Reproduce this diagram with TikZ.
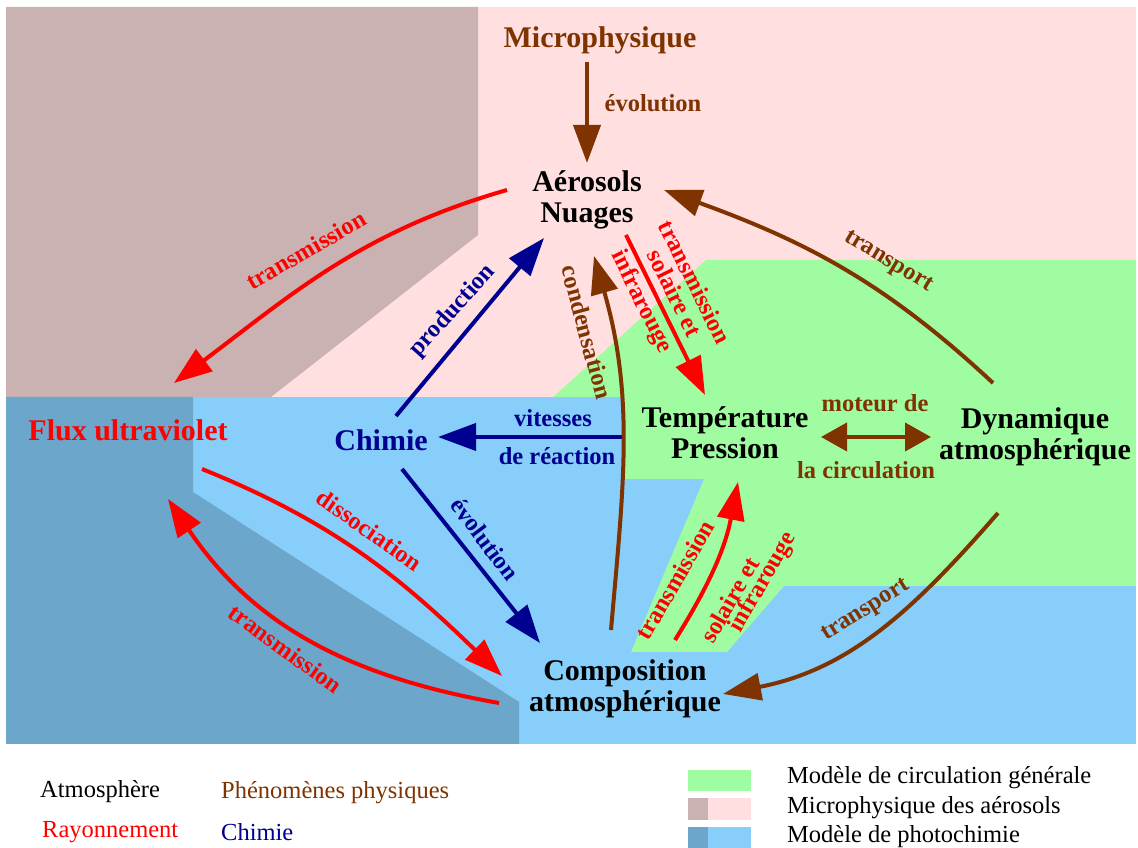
\documentclass[tikz,border=0pt]{standalone}
\usepackage{fontspec}
\setmainfont{Liberation Serif}
\usepackage{tikz}
\usetikzlibrary{arrows.meta}

\definecolor{Brun}{RGB}{127,51,0}
\definecolor{Marine}{RGB}{0,0,144}
\definecolor{Rose}{RGB}{255,223,223}
\definecolor{RoseFonce}{RGB}{201,178,177}
\definecolor{Vert}{RGB}{160,252,160}
\definecolor{Ciel}{RGB}{135,206,250}
\definecolor{CielFonce}{RGB}{108,166,202}

\begin{document}
\begin{tikzpicture}[x=1pt,y=1pt,
  gros/.style={font=\fontsize{30}{31}\selectfont\bfseries,inner sep=0pt,align=center},
  etiq/.style={font=\fontsize{24.5}{25}\selectfont\bfseries,inner sep=0pt},
  leg/.style={font=\fontsize{24.5}{25}\selectfont,inner sep=0pt,anchor=west},
  fl/.style={-{Triangle[length=38pt,width=27pt]},line width=4pt}]

\useasboundingbox (0,0) rectangle (1138,848);

% fonds des trois modeles
\fill[Rose] (6,451) rectangle (1136,841);
\fill[Ciel] (6,104) rectangle (1136,451);
\fill[Vert] (706,588) -- (1136,588) -- (1136,262) -- (784,262) -- (727,196) -- (631,196)
  -- (704,369) -- (622,369) -- (622,451) -- (553,451) -- cycle;
\fill[RoseFonce] (6,841) -- (478,841) -- (478,613) -- (271,451) -- (6,451) -- cycle;
\fill[CielFonce] (6,451) -- (193,451) -- (193,356) -- (519,146) -- (519,104) -- (6,104) -- cycle;

\node[gros,Brun,anchor=base] (micro) at (600,800) {Microphysique};
\node[gros] (aer) at (587,648) {Aérosols\\Nuages};
\node[gros] (temp) at (725,415) {Température\\Pression};
\node[gros] (dyn) at (1035,411) {Dynamique\\atmosphérique};
\node[gros] (comp) at (625,159) {Composition\\atmosphérique};
\node[gros,Marine,anchor=base] (chim) at (381,397) {Chimie};
\node[gros,red,anchor=base] (flux) at (128,407) {Flux ultraviolet};

\draw[fl,Brun] ([shift={(-13,-14)}]micro.base) -- ([shift={(0,37)}]aer.center);
\draw[fl,Brun] ([shift={(-42,54)}]dyn.center) to[out=137,in=-20] ([shift={(77,10)}]aer.center);
\draw[fl,red] ([shift={(-80,10)}]aer.center) to[out=196,in=37] ([shift={(46,58)}]flux.base);
\draw[fl,Marine] ([shift={(15,35)}]chim.base) -- ([shift={(-43,-38)}]aer.center);
\draw[fl,Marine] ([shift={(-103,-4)}]temp.center) -- ([shift={(57,14)}]chim.base);
\draw[fl,Marine] ([shift={(21,-18)}]chim.base) -- ([shift={(-85,46)}]comp.center);
\draw[fl,Brun] ([shift={(-14,59)}]comp.center) to[out=85,in=-74] ([shift={(7,-56)}]aer.center);
\draw[fl,red] ([shift={(39,-35)}]aer.center) -- ([shift={(-20,38)}]temp.center);
\draw[{Triangle[length=26pt,width=28pt]}-{Triangle[length=26pt,width=28pt]},line width=4pt,Brun]
  ([shift={(96,-4)}]temp.center) -- ([shift={(-104,0)}]dyn.center);
\draw[fl,Brun] ([shift={(-37,-76)}]dyn.center) to[out=229,in=11] ([shift={(98,-5)}]comp.center);
\draw[fl,red] ([shift={(-126,-14)}]comp.center) to[out=170,in=-56] ([shift={(40,-58)}]flux.base);
\draw[fl,red] ([shift={(74,-28)}]flux.base) to[out=-22,in=136] ([shift={(-123,13)}]comp.center);
\draw[fl,red] ([shift={(50,49)}]comp.center) to[out=58,in=-101] ([shift={(13,-49)}]temp.center);

\node[etiq,Brun] (l-evol) at (653,745) {évolution};
\node[etiq,red,rotate=30] (l-trans1) at (306,598) {transmission};
\node[etiq,Marine,rotate=48] (l-prod) at (453,537) {production};
\node[etiq,Brun,rotate=-31] (l-transp1) at (888,586) {transport};
\node[etiq,Brun,rotate=-75] (l-cond) at (587,516) {condensation};
\node[etiq,Marine] (l-vit) at (553,430) {vitesses};
\node[etiq,Marine] (l-reac) at (557,392) {de réaction};
\node[etiq,Marine,rotate=-53] (l-evol2) at (485,309) {évolution};
\node[etiq,red,rotate=-63.7] (l-ts1) at (695,566) {transmission};
\node[etiq,red,rotate=-63.7] (l-ts2) at (675,555) {solaire et};
\node[etiq,red,rotate=-63.7] (l-ts3) at (641,546) {infrarouge};
\node[etiq,Brun] (l-mot1) at (875,445) {moteur de};
\node[etiq,Brun] (l-mot2) at (866,378) {la circulation};
\node[etiq,Brun,rotate=32] (l-transp2) at (866,237) {transport};
\node[etiq,red,rotate=60] (l-ts4) at (675,268) {transmission};
\node[etiq,red,rotate=60] (l-ts5) at (729.5,248) {solaire et};
\node[etiq,red,rotate=60] (l-ts6) at (763,265.5) {infrarouge};
\node[etiq,red,rotate=-35] (l-diss) at (369.5,318) {dissociation};
\node[etiq,red,rotate=-36] (l-trans2) at (285.5,199.5) {transmission};

% legende
\node[leg] (lg-atm) at (40,56) {Atmosphère};
\node[leg,Brun] (lg-phen) at (221,55) {Phénomènes physiques};
\node[leg,red] (lg-ray) at (42,16) {Rayonnement};
\node[leg,Marine] (lg-chim) at (221,16) {Chimie};
\fill[Vert] (688,57) rectangle (751,78);
\fill[Rose] (688,28) rectangle (751,50);
\fill[RoseFonce] (688,28) rectangle (708,50);
\fill[Ciel] (688,0) rectangle (751,21);
\fill[CielFonce] (688,0) rectangle (708,21);
\node[leg] (lg-mcg) at (787,70) {Modèle de circulation générale};
\node[leg] (lg-micro) at (787,40) {Microphysique des aérosols};
\node[leg] (lg-photo) at (787,11) {Modèle de photochimie};

\end{tikzpicture}
\end{document}
